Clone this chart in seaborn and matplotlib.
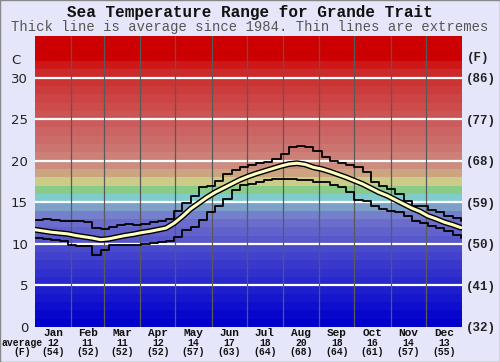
import matplotlib
matplotlib.use("Agg")
import matplotlib.pyplot as plt
import matplotlib.transforms as mtransforms
from matplotlib.patches import Rectangle
import seaborn as sns
import pandas as pd

# ---------------- data ----------------
week_day = [0, 7, 14, 21, 28, 35, 42, 49, 56, 63, 70, 77, 84, 91, 98, 105, 112,
            119, 126, 133, 140, 147, 154, 161, 168, 175, 182, 189, 196, 203, 210,
            217, 224, 231, 238, 245, 252, 259, 266, 273, 280, 287, 294, 301, 308,
            315, 322, 329, 336, 343, 350, 357, 364]
max_c = [12.9, 13.0, 12.9, 12.8, 12.75, 12.75, 12.6, 11.85, 11.75, 12.05, 12.3,
         12.4, 12.3, 12.4, 12.6, 12.8, 13.0, 13.9, 14.9, 15.8, 16.8, 16.9, 17.6,
         18.4, 18.9, 19.2, 19.5, 19.75, 19.9, 20.2, 20.85, 21.6, 21.8, 21.6, 21.2,
         20.4, 20.0, 19.7, 19.5, 19.25, 18.6, 17.5, 17.0, 16.6, 16.0, 15.2, 14.6,
         14.5, 14.1, 13.8, 13.4, 13.05, 12.8]
min_c = [10.65, 10.55, 10.45, 10.3, 9.9, 9.8, 9.75, 8.65, 9.25, 9.85, 9.85, 9.85,
         9.9, 10.0, 10.1, 10.2, 10.3, 10.8, 11.7, 12.0, 12.9, 13.8, 14.5, 15.4,
         16.5, 17.05, 17.2, 17.4, 17.7, 17.85, 17.85, 17.8, 17.7, 17.65, 17.5,
         17.45, 17.1, 16.8, 16.2, 15.3, 15.1, 14.5, 14.2, 14.0, 13.8, 13.4, 12.8,
         12.5, 12.2, 11.9, 11.6, 11.1, 10.75]
avg_c = [11.7, 11.55, 11.4, 11.3, 11.2, 11.0, 10.85, 10.7, 10.5, 10.6, 10.8, 11.0,
         11.15, 11.35, 11.5, 11.7, 11.9, 12.5, 13.3, 14.2, 14.9, 15.6, 16.2, 16.7,
         17.2, 17.7, 18.1, 18.45, 18.75, 19.05, 19.35, 19.6, 19.7, 19.55, 19.2,
         19.0, 18.7, 18.35, 18.0, 17.6, 17.2, 16.7, 16.2, 15.8, 15.3, 14.8, 14.3,
         13.9, 13.35, 13.0, 12.6, 12.3, 11.95]

months = ["Jan", "Feb", "Mar", "Apr", "May", "Jun", "Jul", "Aug", "Sep", "Oct", "Nov", "Dec"]
month_days = [31, 28, 31, 30, 31, 30, 31, 31, 30, 31, 30, 31]
month_avg_c = [12, 11, 11, 12, 14, 17, 18, 20, 18, 16, 14, 13]
month_avg_f = [54, 52, 52, 52, 57, 63, 64, 68, 64, 61, 57, 55]

left_ticks_c = [0, 5, 10, 15, 20, 25, 30]
right_ticks_f = [32, 41, 50, 59, 68, 77, 86]

# background colour bands, one per degree C starting at 0
band_colors = ["#0000cc", "#0606cc", "#0e0ecc", "#1616cc", "#1e1ecc", "#2828cc",
               "#3030cc", "#3838cc", "#4242cc", "#4a4acc", "#5858cc", "#6262cc",
               "#6c6ccc", "#7480cc", "#7ca0c8", "#80cccc", "#88cc88", "#cccc88",
               "#cca480", "#cc8c80", "#cc8078", "#cc7470", "#cc6c6a", "#cc6464",
               "#cc5c5c", "#cc5454", "#cc4c4c", "#cc4444", "#cc3c3c", "#cc3434",
               "#cc2a2a", "#cc1818", "#cc0000", "#cc0000", "#cc0000"]

df = pd.DataFrame({"day": week_day, "max": max_c, "min": min_c, "avg": avg_c})

# ---------------- figure ----------------
sns.set_style("white")
BG = "#e6e6fa"
fig = plt.figure(figsize=(5.0, 3.62), dpi=100, facecolor=BG)
ax = fig.add_axes([35 / 500, (362 - 327) / 362, 427 / 500, 291 / 362])
ax.set_facecolor(BG)

for i, c in enumerate(band_colors):
    ax.axhspan(i, i + 1, color=c, lw=0, zorder=0)

for t in left_ticks_c[1:]:
    ax.axhline(t, color="white", lw=1.6, zorder=1)

bounds = []
acc = 0
for d in month_days[:-1]:
    acc += d
    bounds.append(acc)
for b in bounds:
    ax.axvline(b, color="#5a5a5a", lw=0.9, zorder=1)

sns.lineplot(data=df, x="day", y="max", ax=ax, color="black", lw=1.3,
             drawstyle="steps-post", zorder=3)
sns.lineplot(data=df, x="day", y="min", ax=ax, color="black", lw=1.3,
             drawstyle="steps-post", zorder=3)
sns.lineplot(data=df, x="day", y="avg", ax=ax, color="black", lw=4.2, zorder=4)
sns.lineplot(data=df, x="day", y="avg", ax=ax, color="#ffffc0", lw=2.2, zorder=5)

ax.set_xlim(0, 365)
ax.set_ylim(0, 35)
ax.set_xlabel("")
ax.set_ylabel("")
for s in ax.spines.values():
    s.set_visible(False)

ax.set_yticks(left_ticks_c)
ax.set_yticklabels([str(t) for t in left_ticks_c], fontsize=9.5, color="#222222",
                   family="DejaVu Sans")
ax.tick_params(axis="y", length=0, pad=5)

sec = ax.secondary_yaxis("right", functions=(lambda c: c * 9 / 5 + 32,
                                             lambda f: (f - 32) * 5 / 9))
sec.set_yticks(right_ticks_f)
sec.set_yticklabels([f"({f})" for f in right_ticks_f], fontsize=9,
                    family="Liberation Mono", weight="bold", color="#222222")
sec.tick_params(length=0, pad=3)
for s in sec.spines.values():
    s.set_visible(False)

mids = []
acc = 0
for d in month_days:
    mids.append(acc + d / 2)
    acc += d
ax.set_xticks(mids)
ax.set_xticklabels(months, fontsize=8, family="Liberation Mono", weight="bold",
                   color="#111111")
ax.tick_params(axis="x", length=0, pad=1)

trans = mtransforms.blended_transform_factory(ax.transData, fig.transFigure)
for m, c, f in zip(mids, month_avg_c, month_avg_f):
    ax.text(m, 1 - 343 / 362, str(c), transform=trans, ha="center", va="center",
            fontsize=7, family="Liberation Mono", weight="bold", color="#111111")
    ax.text(m, 1 - 352 / 362, f"({f})", transform=trans, ha="center", va="center",
            fontsize=7, family="Liberation Mono", weight="bold", color="#111111")

fig.text(22 / 500, 1 - 343 / 362, "average", ha="center", va="center", fontsize=7,
         family="Liberation Mono", weight="bold", color="#111111")
fig.text(22 / 500, 1 - 352 / 362, "(F)", ha="center", va="center", fontsize=7,
         family="Liberation Mono", weight="bold", color="#111111")

fig.text(16 / 500, 1 - 60 / 362, "C", ha="center", va="center", fontsize=9.5,
         family="DejaVu Sans", color="#222222")
fig.text(478 / 500, 1 - 58 / 362, "(F)", ha="center", va="center", fontsize=9,
         family="Liberation Mono", weight="bold", color="#222222")

fig.text(0.5, 1 - 12 / 362, "Sea Temperature Range for Grande Trait", ha="center",
         va="center", fontsize=11.5, family="Liberation Mono", weight="bold",
         color="#111111")
fig.text(0.5, 1 - 27 / 362,
         "Thick line is average since 1984. Thin lines are extremes",
         ha="center", va="center", fontsize=10, family="Liberation Mono",
         color="#555555")

fig.add_artist(Rectangle((0, 0), 1, 1, transform=fig.transFigure, fill=False,
                         edgecolor="#888888", lw=1))

fig.savefig("out.png", dpi=100, facecolor=BG)
